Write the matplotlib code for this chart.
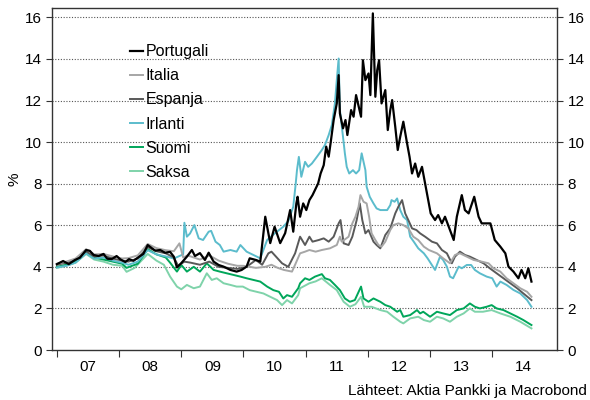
import matplotlib
matplotlib.use('Agg')
import matplotlib.pyplot as plt
import numpy as np

plt.rcParams['font.family'] = ['Liberation Sans', 'DejaVu Sans']

# 10v valtionlainojen korot, %, luettu kuvasta (vuosi desimaaleina)
pt_t = [2007.00, 2007.10, 2007.19, 2007.29, 2007.37, 2007.47, 2007.53, 2007.59, 2007.67, 2007.75,
        2007.81, 2007.88, 2007.96, 2008.02, 2008.10, 2008.16, 2008.23, 2008.31, 2008.39, 2008.46,
        2008.53, 2008.58, 2008.66, 2008.74, 2008.82, 2008.88, 2008.93, 2009.00, 2009.09, 2009.17,
        2009.22, 2009.30, 2009.38, 2009.44, 2009.52, 2009.60, 2009.68, 2009.79, 2009.89, 2009.97,
        2010.05, 2010.10, 2010.20, 2010.27, 2010.35, 2010.43, 2010.50, 2010.59, 2010.67, 2010.75,
        2010.80, 2010.85, 2010.87, 2010.91, 2010.96, 2011.01, 2011.06, 2011.11, 2011.20, 2011.24,
        2011.29, 2011.33, 2011.37, 2011.40, 2011.45, 2011.50, 2011.53, 2011.55, 2011.60, 2011.64,
        2011.67, 2011.73, 2011.77, 2011.81, 2011.89, 2011.92, 2011.96, 2012.01, 2012.04, 2012.06,
        2012.08, 2012.12, 2012.15, 2012.18, 2012.22, 2012.28, 2012.32, 2012.36, 2012.39, 2012.44,
        2012.48, 2012.52, 2012.57, 2012.63, 2012.67, 2012.71, 2012.76, 2012.81, 2012.87, 2012.95,
        2013.01, 2013.08, 2013.13, 2013.19, 2013.24, 2013.32, 2013.38, 2013.43, 2013.51, 2013.56,
        2013.62, 2013.71, 2013.78, 2013.83, 2013.97, 2014.04, 2014.13, 2014.21, 2014.26, 2014.34,
        2014.42, 2014.47, 2014.53, 2014.58, 2014.63]
pt_v = [4.13, 4.28, 4.13, 4.33, 4.44, 4.81, 4.77, 4.57, 4.52, 4.62,
        4.39, 4.37, 4.52, 4.36, 4.23, 4.37, 4.29, 4.46, 4.62, 5.05,
        4.89, 4.78, 4.81, 4.68, 4.72, 4.49, 3.97, 4.18, 4.49, 4.81,
        4.52, 4.66, 4.33, 4.68, 4.25, 4.09, 4.01, 3.85, 3.77, 3.85,
        4.01, 4.41, 4.33, 4.25, 6.41, 5.14, 5.93, 5.14, 5.62, 6.73,
        5.69, 7.05, 7.37, 6.41, 7.05, 6.73, 7.21, 7.45, 8.01, 8.49,
        8.89, 9.78, 9.30, 9.94, 11.06, 11.86, 13.22, 11.38, 10.66, 11.06,
        10.34, 11.54, 11.22, 12.26, 11.22, 13.94, 12.98, 13.30, 12.26, 14.26,
        16.19, 12.18, 13.46, 13.94, 11.86, 12.50, 10.58, 11.54, 12.02, 10.74,
        9.62, 10.26, 10.98, 9.94, 9.29, 8.49, 8.97, 8.33, 8.81, 7.53,
        6.57, 6.25, 6.49, 6.09, 6.41, 5.77, 5.29, 6.41, 7.45, 6.73,
        6.57, 7.37, 6.41, 6.09, 6.09, 5.29, 4.97, 4.65, 4.01, 3.77,
        3.45, 3.85, 3.45, 3.93, 3.29]

it_t = [2007.00, 2007.15, 2007.30, 2007.47, 2007.60, 2007.75, 2007.90, 2008.05, 2008.15, 2008.30,
        2008.46, 2008.60, 2008.75, 2008.88, 2008.97, 2009.03, 2009.10, 2009.20, 2009.30, 2009.45,
        2009.60, 2009.75, 2009.90, 2010.00, 2010.20, 2010.35, 2010.45, 2010.55, 2010.65, 2010.78,
        2010.84, 2010.91, 2010.99, 2011.06, 2011.16, 2011.26, 2011.39, 2011.50, 2011.55, 2011.58,
        2011.69, 2011.75, 2011.80, 2011.85, 2011.88, 2011.93, 2011.98, 2012.02, 2012.06, 2012.12,
        2012.17, 2012.22, 2012.28, 2012.36, 2012.41, 2012.49, 2012.57, 2012.65, 2012.73, 2012.81,
        2012.90, 2012.98, 2013.11, 2013.21, 2013.32, 2013.40, 2013.48, 2013.59, 2013.70, 2013.83,
        2013.94, 2014.02, 2014.13, 2014.23, 2014.34, 2014.45, 2014.56, 2014.63]
it_v = [4.15, 4.25, 4.40, 4.85, 4.60, 4.62, 4.50, 4.40, 4.42, 4.55,
        5.10, 4.90, 4.80, 4.75, 5.13, 4.45, 4.55, 4.45, 4.35, 4.55,
        4.30, 4.15, 4.05, 4.05, 3.95, 4.00, 4.10, 3.95, 3.85, 3.77,
        4.17, 4.65, 4.73, 4.81, 4.73, 4.81, 4.89, 5.05, 5.45, 5.21,
        5.45, 6.09, 6.41, 6.89, 7.45, 7.13, 7.05, 6.41, 5.61, 5.29,
        5.05, 4.97, 5.21, 5.77, 6.01, 6.09, 6.01, 5.85, 5.45, 5.29,
        4.97, 4.81, 4.65, 4.41, 4.17, 4.57, 4.65, 4.49, 4.33, 4.25,
        4.17, 3.93, 3.77, 3.45, 3.21, 2.97, 2.80, 2.56]

es_t = [2007.00, 2007.15, 2007.30, 2007.47, 2007.60, 2007.75, 2007.90, 2008.05, 2008.15, 2008.30,
        2008.46, 2008.60, 2008.75, 2008.88, 2008.95, 2009.05, 2009.15, 2009.30, 2009.45, 2009.60,
        2009.75, 2009.90, 2010.05, 2010.20, 2010.30, 2010.40, 2010.45, 2010.52, 2010.62, 2010.72,
        2010.83, 2010.91, 2010.99, 2011.06, 2011.11, 2011.21, 2011.29, 2011.37, 2011.45, 2011.53,
        2011.56, 2011.61, 2011.69, 2011.75, 2011.82, 2011.87, 2011.91, 2011.96, 2012.01, 2012.09,
        2012.14, 2012.20, 2012.28, 2012.36, 2012.44, 2012.49, 2012.55, 2012.60, 2012.65, 2012.71,
        2012.78, 2012.84, 2012.92, 2013.03, 2013.11, 2013.19, 2013.27, 2013.35, 2013.40, 2013.48,
        2013.56, 2013.64, 2013.75, 2013.86, 2013.96, 2014.07, 2014.18, 2014.29, 2014.40, 2014.50,
        2014.63]
es_v = [4.10, 4.20, 4.35, 4.75, 4.50, 4.55, 4.40, 4.30, 4.25, 4.40,
        4.95, 4.75, 4.65, 4.45, 4.05, 4.25, 4.20, 4.10, 4.25, 4.00,
        3.95, 3.90, 4.00, 4.33, 4.10, 4.65, 4.73, 4.50, 4.17, 4.00,
        4.65, 5.45, 5.05, 5.45, 5.21, 5.29, 5.37, 5.21, 5.45, 6.09,
        6.25, 5.13, 5.05, 5.45, 6.25, 7.05, 6.25, 5.61, 5.77, 5.21,
        5.05, 4.89, 5.53, 5.85, 6.57, 6.89, 7.21, 6.57, 6.25, 5.85,
        5.77, 5.61, 5.45, 5.21, 5.13, 4.81, 4.65, 4.17, 4.49, 4.73,
        4.57, 4.49, 4.33, 4.17, 3.93, 3.69, 3.45, 3.21, 2.97, 2.72,
        2.40]

ie_t = [2007.00, 2007.15, 2007.30, 2007.47, 2007.60, 2007.75, 2007.90, 2008.05, 2008.15, 2008.30,
        2008.46, 2008.60, 2008.75, 2008.88, 2009.03, 2009.05, 2009.09, 2009.14, 2009.21, 2009.28,
        2009.35, 2009.44, 2009.48, 2009.55, 2009.62, 2009.68, 2009.79, 2009.89, 2009.95, 2010.05,
        2010.16, 2010.27, 2010.38, 2010.50, 2010.64, 2010.72, 2010.80, 2010.84, 2010.86, 2010.89,
        2010.93, 2010.99, 2011.04, 2011.10, 2011.18, 2011.26, 2011.31, 2011.37, 2011.42, 2011.47,
        2011.50, 2011.53, 2011.55, 2011.60, 2011.63, 2011.66, 2011.70, 2011.76, 2011.81, 2011.86,
        2011.90, 2011.96, 2011.98, 2012.03, 2012.09, 2012.14, 2012.20, 2012.31, 2012.36, 2012.38,
        2012.43, 2012.47, 2012.52, 2012.57, 2012.63, 2012.68, 2012.74, 2012.81, 2012.90, 2012.96,
        2013.08, 2013.16, 2013.21, 2013.27, 2013.32, 2013.37, 2013.46, 2013.51, 2013.59, 2013.66,
        2013.72, 2013.80, 2013.91, 2014.00, 2014.07, 2014.13, 2014.23, 2014.34, 2014.45, 2014.56,
        2014.63]
ie_v = [3.97, 4.05, 4.20, 4.65, 4.40, 4.45, 4.30, 4.20, 4.10, 4.25,
        4.80, 4.60, 4.50, 4.40, 4.60, 6.12, 5.45, 5.60, 6.01, 5.37,
        5.29, 5.69, 5.73, 5.21, 5.05, 4.73, 4.81, 4.73, 5.05, 4.73,
        4.57, 4.41, 5.29, 5.60, 5.93, 6.20, 6.89, 8.01, 8.65, 9.29,
        8.33, 9.05, 8.81, 8.97, 9.29, 9.62, 9.86, 10.34, 10.82, 11.86,
        12.98, 14.02, 11.54, 10.26, 9.46, 8.81, 8.49, 8.65, 8.49, 8.65,
        9.46, 8.65, 7.85, 7.37, 7.05, 6.81, 6.73, 6.73, 6.97, 7.21,
        7.13, 7.29, 6.73, 6.41, 6.25, 5.45, 5.20, 4.89, 4.65, 4.41,
        3.85, 4.49, 4.33, 4.01, 3.53, 3.45, 4.01, 3.93, 4.09, 4.09,
        3.85, 3.69, 3.53, 3.45, 3.05, 3.29, 3.13, 2.89, 2.72, 2.40,
        2.08]

fi_t = [2007.00, 2007.15, 2007.30, 2007.47, 2007.60, 2007.75, 2007.90, 2008.05, 2008.12, 2008.30,
        2008.46, 2008.60, 2008.75, 2008.82, 2008.93, 2009.00, 2009.09, 2009.20, 2009.30, 2009.41,
        2009.52, 2009.62, 2009.73, 2009.84, 2009.95, 2010.05, 2010.16, 2010.27, 2010.38, 2010.48,
        2010.57, 2010.64, 2010.70, 2010.78, 2010.88, 2010.91, 2010.99, 2011.06, 2011.15, 2011.26,
        2011.31, 2011.39, 2011.47, 2011.55, 2011.63, 2011.71, 2011.79, 2011.89, 2011.93, 2012.01,
        2012.09, 2012.20, 2012.28, 2012.36, 2012.47, 2012.52, 2012.57, 2012.68, 2012.79, 2012.84,
        2012.89, 2013.00, 2013.11, 2013.21, 2013.32, 2013.43, 2013.54, 2013.64, 2013.72, 2013.80,
        2013.91, 2013.99, 2014.07, 2014.18, 2014.29, 2014.40, 2014.50, 2014.63]
fi_v = [4.00, 4.10, 4.25, 4.68, 4.45, 4.35, 4.25, 4.15, 3.95, 4.15,
        4.85, 4.60, 4.45, 4.20, 3.77, 4.09, 3.77, 4.00, 3.77, 4.17,
        3.85, 3.77, 3.69, 3.61, 3.53, 3.45, 3.37, 3.29, 3.05, 2.88,
        2.80, 2.48, 2.64, 2.56, 2.97, 3.21, 3.45, 3.37, 3.53, 3.65,
        3.45, 3.37, 3.13, 2.88, 2.48, 2.32, 2.40, 3.05, 2.48, 2.32,
        2.48, 2.32, 2.16, 2.08, 1.84, 1.92, 1.60, 1.68, 1.92, 1.76,
        1.84, 1.60, 1.84, 1.76, 1.68, 1.92, 2.00, 2.24, 2.08, 2.00,
        2.08, 2.16, 2.00, 1.92, 1.76, 1.60, 1.44, 1.20]

de_t = [2007.00, 2007.15, 2007.30, 2007.47, 2007.60, 2007.75, 2007.90, 2008.05, 2008.12, 2008.25,
        2008.46, 2008.60, 2008.72, 2008.82, 2008.93, 2009.00, 2009.09, 2009.20, 2009.30, 2009.41,
        2009.49, 2009.57, 2009.68, 2009.79, 2009.89, 2009.99, 2010.10, 2010.21, 2010.32, 2010.43,
        2010.54, 2010.62, 2010.70, 2010.78, 2010.88, 2010.91, 2011.06, 2011.16, 2011.26, 2011.39,
        2011.50, 2011.61, 2011.71, 2011.80, 2011.89, 2011.94, 2012.06, 2012.20, 2012.31, 2012.41,
        2012.52, 2012.57, 2012.68, 2012.81, 2012.90, 2013.00, 2013.11, 2013.21, 2013.32, 2013.43,
        2013.54, 2013.64, 2013.72, 2013.85, 2013.99, 2014.13, 2014.29, 2014.45, 2014.63]
de_v = [3.95, 4.05, 4.20, 4.62, 4.35, 4.25, 4.10, 4.05, 3.76, 3.95,
        4.62, 4.30, 4.10, 3.53, 3.05, 2.92, 3.13, 2.97, 3.05, 3.69,
        3.37, 3.45, 3.21, 3.13, 3.05, 3.05, 2.88, 2.80, 2.72, 2.56,
        2.40, 2.16, 2.40, 2.24, 2.64, 2.97, 3.21, 3.30, 3.45, 3.13,
        2.88, 2.32, 2.08, 2.20, 2.56, 2.08, 2.08, 1.92, 1.84, 1.60,
        1.36, 1.28, 1.52, 1.60, 1.44, 1.36, 1.60, 1.52, 1.36, 1.60,
        1.76, 2.00, 1.84, 1.84, 1.92, 1.76, 1.60, 1.36, 1.04]

series = [
    ('Portugali', pt_t, pt_v, '#000000', 1.6),
    ('Italia', it_t, it_v, '#a6a6a6', 1.4),
    ('Espanja', es_t, es_v, '#595959', 1.4),
    ('Irlanti', ie_t, ie_v, '#5bbccc', 1.4),
    ('Suomi', fi_t, fi_v, '#00a65a', 1.4),
    ('Saksa', de_t, de_v, '#7fd3aa', 1.4),
]
years = [2007, 2008, 2009, 2010, 2011, 2012, 2013, 2014]
year_labels = ['07', '08', '09', '10', '11', '12', '13', '14']
yticks = [0, 2, 4, 6, 8, 10, 12, 14, 16]

fig = plt.figure(figsize=(5.9, 4.0), dpi=100)
ax = fig.add_axes([0.088, 0.125, 0.856, 0.854])

handles = {}
for name, t, v, col, lw in reversed(series):
    h, = ax.plot(t, v, color=col, lw=lw, label=name, solid_joinstyle='round')
    handles[name] = h

ax.set_xlim(2006.92, 2015.04)
ax.set_ylim(0, 16.43)
ax.set_yticks(yticks)
for y in yticks[1:]:
    ax.axhline(y, color='#555555', lw=0.8, ls=(0, (1, 1.5)), zorder=0)

ax.set_xticks(years)
ax.set_xticklabels([])
ax.set_xticks([y + 0.5 for y in years], minor=True)
ax.set_xticklabels(year_labels, minor=True, fontsize=11)
ax.tick_params(axis='x', which='major', length=5, direction='out', color='#333333')
ax.tick_params(axis='x', which='minor', length=0, pad=7)
ax.tick_params(axis='y', labelsize=11, length=4, direction='out', color='#333333',
               right=True, labelright=True)
for s in ax.spines.values():
    s.set_color('#333333')
    s.set_linewidth(1.0)

ax.set_ylabel('%', fontsize=11, labelpad=2)

names = [s[0] for s in series]
ax.legend([handles[n] for n in names], names, loc='upper left', bbox_to_anchor=(0.154, 0.895),
          frameon=False, fontsize=11.5, handlelength=0.85, handletextpad=0.15,
          labelspacing=0.57, borderpad=0, borderaxespad=0)

fig.text(0.995, 0.005, 'Lähteet: Aktia Pankki ja Macrobond', ha='right', va='bottom', fontsize=11)

fig.savefig('out.png', dpi=100)
